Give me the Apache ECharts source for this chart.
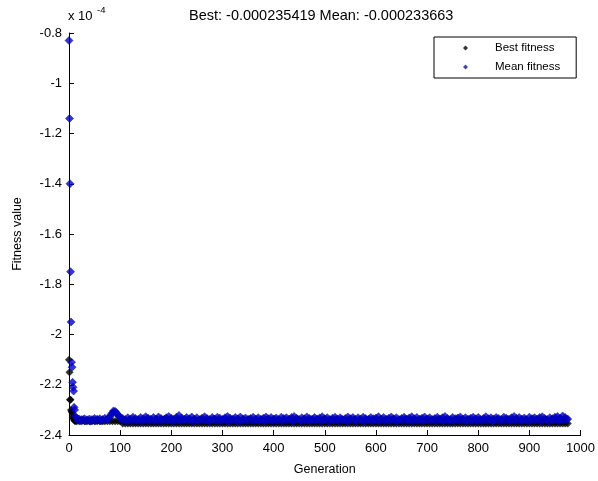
<!DOCTYPE html>
<html>
<head>
<meta charset="utf-8">
<script src="https://cdn.jsdelivr.net/npm/echarts@6/dist/echarts.min.js"></script>
<style>
html,body{margin:0;padding:0;background:#fff;}
#chart{width:598px;height:481px;}
</style>
</head>
<body>
<div id="chart"></div>
<script>
// Values are in units of 1e-4 (axis shows "x 10^-4")
const titleText = "Best: -0.000235419 Mean: -0.000233663";
const yTicks = [-2.4, -2.2, -2, -1.8, -1.6, -1.4, -1.2, -1, -0.8];
const xTicks = [0, 100, 200, 300, 400, 500, 600, 700, 800, 900, 1000];

const earlyGen  = [0, 1, 2, 3, 4, 5, 6, 7, 8, 9, 10, 11, 12];
const earlyMean = [-0.83, -1.14, -1.40, -1.75, -1.95, -2.11, -2.13, -2.19, -2.21, -2.225, -2.29, -2.30, -2.325];
const earlyBest = [-2.10, -2.15, -2.26, -2.26, -2.30, -2.305, -2.31, -2.32, -2.33, -2.335, -2.34, -2.342, -2.345];

const mainGen = [15,20,25,30,35,40,45,50,55,60,
65,70,75,80,85,90,95,100,105,110,
115,120,125,130,135,140,145,150,155,160,
165,170,175,180,185,190,195,200,205,210,
215,220,225,230,235,240,245,250,255,260,
265,270,275,280,285,290,295,300,305,310,
315,320,325,330,335,340,345,350,355,360,
365,370,375,380,385,390,395,400,405,410,
415,420,425,430,435,440,445,450,455,460,
465,470,475,480,485,490,495,500,505,510,
515,520,525,530,535,540,545,550,555,560,
565,570,575,580,585,590,595,600,605,610,
615,620,625,630,635,640,645,650,655,660,
665,670,675,680,685,690,695,700,705,710,
715,720,725,730,735,740,745,750,755,760,
765,770,775,780,785,790,795,800,805,810,
815,820,825,830,835,840,845,850,855,860,
865,870,875,880,885,890,895,900,905,910,
915,920,925,930,935,940,945,950,955,960,
965,970,975];

const mainMean = [-2.332,-2.336,-2.338,-2.335,-2.339,-2.336,-2.338,-2.334,-2.337,-2.335,
-2.338,-2.333,-2.336,-2.328,-2.312,-2.306,-2.318,-2.328,-2.334,-2.338,
-2.331,-2.336,-2.329,-2.334,-2.338,-2.330,-2.335,-2.327,-2.333,-2.337,
-2.330,-2.336,-2.328,-2.334,-2.339,-2.331,-2.326,-2.333,-2.337,-2.329,
-2.322,-2.332,-2.337,-2.330,-2.335,-2.328,-2.336,-2.331,-2.339,-2.333,
-2.327,-2.334,-2.338,-2.330,-2.336,-2.329,-2.333,-2.338,-2.331,-2.326,
-2.333,-2.337,-2.330,-2.335,-2.328,-2.336,-2.332,-2.338,-2.334,-2.329,
-2.336,-2.331,-2.337,-2.333,-2.328,-2.335,-2.330,-2.336,-2.332,-2.338,
-2.329,-2.334,-2.331,-2.337,-2.330,-2.326,-2.333,-2.338,-2.331,-2.335,
-2.328,-2.334,-2.337,-2.330,-2.336,-2.332,-2.327,-2.335,-2.331,-2.338,
-2.333,-2.329,-2.336,-2.331,-2.338,-2.334,-2.328,-2.335,-2.330,-2.337,
-2.331,-2.336,-2.329,-2.334,-2.338,-2.330,-2.335,-2.332,-2.327,-2.336,
-2.330,-2.337,-2.333,-2.328,-2.335,-2.331,-2.338,-2.334,-2.329,-2.336,
-2.332,-2.327,-2.335,-2.330,-2.337,-2.333,-2.328,-2.336,-2.331,-2.338,
-2.334,-2.329,-2.336,-2.331,-2.326,-2.334,-2.338,-2.330,-2.335,-2.332,
-2.328,-2.336,-2.331,-2.337,-2.333,-2.329,-2.335,-2.330,-2.338,-2.334,
-2.327,-2.335,-2.331,-2.336,-2.330,-2.334,-2.338,-2.329,-2.333,-2.337,
-2.331,-2.326,-2.334,-2.330,-2.336,-2.332,-2.338,-2.329,-2.335,-2.331,
-2.336,-2.330,-2.327,-2.334,-2.338,-2.331,-2.335,-2.329,-2.326,-2.333,
-2.324,-2.330,-2.3366];

const midGen = [17,22,27,32,37,42,47,52,57,62,
67,72,77,82,87,92,97,102,107,112,
117,122,127,132,137,142,147,152,157,162,
167,172,177,182,187,192,197,202,207,212,
217,222,227,232,237,242,247,252,257,262,
267,272,277,282,287,292,297,302,307,312,
317,322,327,332,337,342,347,352,357,362,
367,372,377,382,387,392,397,402,407,412,
417,422,427,432,437,442,447,452,457,462,
467,472,477,482,487,492,497,502,507,512,
517,522,527,532,537,542,547,552,557,562,
567,572,577,582,587,592,597,602,607,612,
617,622,627,632,637,642,647,652,657,662,
667,672,677,682,687,692,697,702,707,712,
717,722,727,732,737,742,747,752,757,762,
767,772,777,782,787,792,797,802,807,812,
817,822,827,832,837,842,847,852,857,862,
867,872,877,882,887,892,897,902,907,912,
917,922,927,932,937,942,947,952,957,962,
967,972];

const midMean = [-2.341,-2.343,-2.340,-2.344,-2.342,-2.345,-2.341,-2.343,-2.340,-2.344,
-2.342,-2.340,-2.336,-2.318,-2.304,-2.310,-2.325,-2.338,-2.342,-2.344,
-2.341,-2.344,-2.339,-2.343,-2.340,-2.345,-2.342,-2.338,-2.344,-2.341,
-2.343,-2.339,-2.345,-2.341,-2.337,-2.343,-2.340,-2.344,-2.342,-2.339,
-2.344,-2.341,-2.338,-2.343,-2.340,-2.345,-2.341,-2.344,-2.339,-2.342,
-2.340,-2.345,-2.342,-2.338,-2.343,-2.341,-2.344,-2.339,-2.342,-2.345,
-2.341,-2.339,-2.344,-2.342,-2.345,-2.340,-2.343,-2.338,-2.342,-2.344,
-2.339,-2.343,-2.341,-2.345,-2.340,-2.342,-2.344,-2.338,-2.343,-2.341,
-2.344,-2.340,-2.343,-2.339,-2.345,-2.342,-2.338,-2.344,-2.341,-2.343,
-2.341,-2.345,-2.339,-2.343,-2.340,-2.344,-2.342,-2.338,-2.345,-2.341,
-2.343,-2.340,-2.344,-2.338,-2.342,-2.345,-2.341,-2.343,-2.339,-2.344,
-2.340,-2.343,-2.345,-2.341,-2.338,-2.344,-2.342,-2.340,-2.345,-2.339,
-2.343,-2.341,-2.344,-2.339,-2.342,-2.345,-2.340,-2.343,-2.338,-2.344,
-2.341,-2.345,-2.340,-2.343,-2.339,-2.344,-2.342,-2.338,-2.343,-2.341,
-2.344,-2.339,-2.342,-2.345,-2.340,-2.343,-2.341,-2.344,-2.338,-2.342,
-2.340,-2.344,-2.342,-2.339,-2.345,-2.341,-2.343,-2.340,-2.344,-2.339,
-2.343,-2.340,-2.345,-2.342,-2.338,-2.344,-2.341,-2.343,-2.339,-2.345,
-2.341,-2.343,-2.339,-2.344,-2.342,-2.340,-2.345,-2.341,-2.338,-2.343,
-2.340,-2.344,-2.342,-2.339,-2.345,-2.341,-2.343,-2.338,-2.344,-2.340,
-2.342,-2.339];

const mainBest = [-2.345,-2.345,-2.345,-2.345,-2.345,-2.345,-2.345,-2.345,-2.345,-2.345,
-2.345,-2.345,-2.345,-2.345,-2.345,-2.345,-2.345,-2.345,-2.3542,-2.3542,
-2.3542,-2.3542,-2.3542,-2.3542,-2.3542,-2.3542,-2.3542,-2.3542,-2.3542,-2.3542,
-2.3542,-2.3542,-2.3542,-2.3542,-2.3542,-2.3542,-2.3542,-2.3542,-2.3542,-2.3542,
-2.3542,-2.3542,-2.3542,-2.3542,-2.3542,-2.3542,-2.3542,-2.3542,-2.3542,-2.3542,
-2.3542,-2.3542,-2.3542,-2.3542,-2.3542,-2.3542,-2.3542,-2.3542,-2.3542,-2.3542,
-2.3542,-2.3542,-2.3542,-2.3542,-2.3542,-2.3542,-2.3542,-2.3542,-2.3542,-2.3542,
-2.3542,-2.3542,-2.3542,-2.3542,-2.3542,-2.3542,-2.3542,-2.3542,-2.3542,-2.3542,
-2.3542,-2.3542,-2.3542,-2.3542,-2.3542,-2.3542,-2.3542,-2.3542,-2.3542,-2.3542,
-2.3542,-2.3542,-2.3542,-2.3542,-2.3542,-2.3542,-2.3542,-2.3542,-2.3542,-2.3542,
-2.3542,-2.3542,-2.3542,-2.3542,-2.3542,-2.3542,-2.3542,-2.3542,-2.3542,-2.3542,
-2.3542,-2.3542,-2.3542,-2.3542,-2.3542,-2.3542,-2.3542,-2.3542,-2.3542,-2.3542,
-2.3542,-2.3542,-2.3542,-2.3542,-2.3542,-2.3542,-2.3542,-2.3542,-2.3542,-2.3542,
-2.3542,-2.3542,-2.3542,-2.3542,-2.3542,-2.3542,-2.3542,-2.3542,-2.3542,-2.3542,
-2.3542,-2.3542,-2.3542,-2.3542,-2.3542,-2.3542,-2.3542,-2.3542,-2.3542,-2.3542,
-2.3542,-2.3542,-2.3542,-2.3542,-2.3542,-2.3542,-2.3542,-2.3542,-2.3542,-2.3542,
-2.3542,-2.3542,-2.3542,-2.3542,-2.3542,-2.3542,-2.3542,-2.3542,-2.3542,-2.3542,
-2.3542,-2.3542,-2.3542,-2.3542,-2.3542,-2.3542,-2.3542,-2.3542,-2.3542,-2.3542,
-2.3542,-2.3542,-2.3542,-2.3542,-2.3542,-2.3542,-2.3542,-2.3542,-2.3542,-2.3542,
-2.3542,-2.3542,-2.3542];

const bestGen = earlyGen.concat(mainGen);
const bestVals = earlyBest.concat(mainBest);
const meanGen = earlyGen.concat(midGen, mainGen);
const meanVals = earlyMean.concat(midMean, mainMean);
const bestData = bestGen.map((g, i) => [g, bestVals[i]]);
const meanData = meanGen.map((g, i) => [g, meanVals[i]]);

const FONT = "'Liberation Sans', Arial, sans-serif";
const chart = echarts.init(document.getElementById('chart'), null, {renderer: 'canvas'});
chart.setOption({
  backgroundColor: '#ffffff',
  animation: false,
  title: {
    text: titleText, left: 184, top: 3,
    textStyle: {fontFamily: FONT, fontSize: 14.5, fontWeight: 'normal', color: '#000'}
  },
  legend: {
    orient: 'vertical', left: 434, top: 37,
    padding: [5, 16, 5, 29],
    itemGap: 7, itemWidth: 5, itemHeight: 5,
    borderColor: '#000', borderWidth: 1, backgroundColor: '#fff',
    textStyle: {fontFamily: FONT, fontSize: 11.5, color: '#000', padding: [0, 0, 0, 22]},
    data: [
      {name: 'Best fitness', icon: 'diamond', itemStyle: {color: '#000', borderWidth: 0}},
      {name: 'Mean fitness', icon: 'diamond', itemStyle: {color: '#1a1a90', borderWidth: 0}}
    ]
  },
  grid: {left: 69, right: 14, top: 33, bottom: 42, containLabel: false},
  xAxis: {
    type: 'value', min: 0, max: 1000, interval: 100,
    name: 'Generation', nameLocation: 'middle', nameGap: 28,
    nameTextStyle: {fontFamily: FONT, fontSize: 12.5, color: '#000'},
    axisLine: {onZero: false, lineStyle: {color: '#000', width: 1}},
    axisTick: {inside: true, length: 5, lineStyle: {color: '#000'}},
    axisLabel: {fontFamily: FONT, fontSize: 13, color: '#000', margin: 7,
      formatter: v => String(v)},
    splitLine: {show: false}
  },
  yAxis: {
    type: 'value', min: -2.4, max: -0.8, interval: 0.2,
    name: 'Fitness value', nameLocation: 'middle', nameGap: 45,
    nameTextStyle: {fontFamily: FONT, fontSize: 12.5, color: '#000'},
    axisLine: {show: true, onZero: false, lineStyle: {color: '#000', width: 1}},
    axisTick: {show: true, inside: true, length: 5, lineStyle: {color: '#000'}},
    axisLabel: {fontFamily: FONT, fontSize: 13, color: '#000', margin: 7,
      formatter: v => String(+v.toFixed(1))},
    splitLine: {show: false}
  },
  graphic: [
    {type: 'text', left: 68, top: 10, style: {text: 'x 10', fontFamily: FONT, fontSize: 13, fill: '#000'}},
    {type: 'text', left: 97, top: 5, style: {text: '-4', fontFamily: FONT, fontSize: 9.5, fill: '#000'}}
  ],
  series: [
    {
      name: 'Best fitness', type: 'scatter', data: bestData,
      symbol: 'diamond', symbolSize: 8,
      itemStyle: {color: '#000000'}
    },
    {
      name: 'Mean fitness', type: 'scatter', data: meanData,
      symbol: 'diamond', symbolSize: 8,
      itemStyle: {color: '#0000cc', borderColor: '#00008a', borderWidth: 0.6}
    }
  ]
});
</script>
</body>
</html>
